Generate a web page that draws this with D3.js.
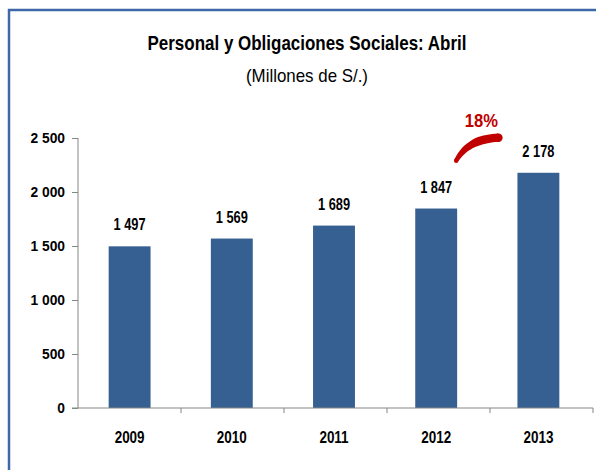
<!DOCTYPE html>
<html>
<head>
<meta charset="utf-8">
<script src="https://cdn.jsdelivr.net/npm/d3@7"></script>
<style>
  body { margin: 0; background: #fff; }
  text { font-family: "Liberation Sans", Arial, sans-serif; }
</style>
</head>
<body>
<div id="chart"></div>
<script>
const years = ['2009', '2010', '2011', '2012', '2013'];
const values = [1497, 1569, 1689, 1847, 2178];
const yTicks = [0, 500, 1000, 1500, 2000, 2500];

const width = 596, height = 470;
const margin = {top: 138, right: 6, bottom: 62, left: 78};

const svg = d3.select('#chart').append('svg')
  .attr('width', width)
  .attr('height', height);

// squeeze text horizontally to imitate the narrow original font
const condense = (sel, k) => sel.each(function () {
  const t = d3.select(this);
  t.attr('textLength', this.getComputedTextLength() * k).attr('lengthAdjust', 'spacingAndGlyphs');
});

// frame (top + left edge visible)
svg.append('path')
  .attr('d', 'M9,' + height + 'V10H' + width)
  .attr('fill', 'none')
  .attr('stroke', '#3d67a6')
  .attr('stroke-width', 2.5);

const x = d3.scaleBand()
  .domain(years)
  .range([margin.left, width - margin.right])
  .paddingInner(0.59)
  .paddingOuter(0.3);

const y = d3.scaleLinear()
  .domain([0, 2500])
  .range([height - margin.bottom, margin.top]);

const fmt = d3.formatLocale({decimal: ',', thousands: ' ', grouping: [3], currency: ['', '']}).format(',d');

// title
svg.append('text')
  .attr('x', 307).attr('y', 50)
  .attr('text-anchor', 'middle')
  .attr('font-size', 21).attr('font-weight', 'bold')
  .attr('textLength', 319).attr('lengthAdjust', 'spacingAndGlyphs')
  .text('Personal y Obligaciones Sociales: Abril');

svg.append('text')
  .attr('x', 307).attr('y', 82)
  .attr('text-anchor', 'middle')
  .attr('font-size', 19)
  .attr('textLength', 122).attr('lengthAdjust', 'spacingAndGlyphs')
  .text('(Millones de S/.)');

// y axis
const yAxis = svg.append('g')
  .attr('transform', 'translate(' + margin.left + ',0)')
  .call(d3.axisLeft(y).tickValues(yTicks).tickSize(6).tickPadding(7).tickFormat(fmt));
yAxis.select('.domain').attr('stroke', '#868686').attr('d', 'M0,' + y(0) + 'V' + y(2500));
yAxis.selectAll('.tick line').attr('stroke', '#868686');
yAxis.selectAll('.tick text')
  .attr('font-size', 15).attr('font-weight', 'bold').attr('fill', '#000')
  .style('font-family', '"Liberation Sans", Arial, sans-serif')
  .call(condense, 0.92);

// bars
svg.selectAll('.bar')
  .data(values)
  .enter()
    .append('rect')
    .attr('class', 'bar')
    .attr('fill', '#376092')
    .attr('x', (d, i) => x(years[i]))
    .attr('y', (d) => y(d))
    .attr('width', x.bandwidth())
    .attr('height', (d) => y(0) - y(d));

// value labels
svg.selectAll('.lbl')
  .data(values)
  .enter()
    .append('text')
    .attr('class', 'lbl')
    .attr('x', (d, i) => x(years[i]) + x.bandwidth() / 2)
    .attr('y', (d) => y(d) - 16)
    .attr('text-anchor', 'middle')
    .attr('font-size', 16).attr('font-weight', 'bold')
    .text((d) => fmt(d))
    .call(condense, 0.8);

// x axis with ticks at category boundaries
const xAxis = svg.append('g')
  .attr('transform', 'translate(0,' + y(0) + ')')
  .call(d3.axisBottom(x).tickSize(0).tickPadding(24));
xAxis.select('.domain').attr('stroke', '#868686').attr('d', 'M' + (margin.left - 6) + ',0H' + (width - margin.right + 3));
xAxis.selectAll('.tick text')
  .attr('font-size', 16).attr('font-weight', 'bold').attr('fill', '#000')
  .style('font-family', '"Liberation Sans", Arial, sans-serif')
  .call(condense, 0.84);

const bounds = d3.range(years.length + 1).map((i) => margin.left + i * ((width - margin.right + 3 - margin.left) / years.length));
xAxis.selectAll('.btick')
  .data(bounds.slice(1))
  .enter()
    .append('line')
    .attr('x1', (d) => d).attr('x2', (d) => d)
    .attr('y1', 0).attr('y2', 5)
    .attr('stroke', '#868686');

// growth annotation between the last two years (tapered brush stroke)
const last = values.length - 1;
const growth = Math.round((values[last] / values[last - 1] - 1) * 100);
const x0 = x(years[last - 1]) + x.bandwidth();
const x1 = x(years[last]);
const p0 = [x0 - 1, y(values[last]) - 12];
const p2 = [x1 - 19, y(values[last]) - 35];
const pc = [p0[0] + 12, p2[1] + 1];

const bez = (t) => [
  (1 - t) * (1 - t) * p0[0] + 2 * (1 - t) * t * pc[0] + t * t * p2[0],
  (1 - t) * (1 - t) * p0[1] + 2 * (1 - t) * t * pc[1] + t * t * p2[1]
];
const tan = (t) => [
  2 * (1 - t) * (pc[0] - p0[0]) + 2 * t * (p2[0] - pc[0]),
  2 * (1 - t) * (pc[1] - p0[1]) + 2 * t * (p2[1] - pc[1])
];
const ts = d3.range(0, 1.0001, 0.05);
const side = (sgn) => ts.map((t) => {
  const p = bez(t), d = tan(t), len = Math.hypot(d[0], d[1]);
  const w = 2.2 + 2.0 * Math.min(1, t * 1.6);
  return [p[0] - sgn * d[1] / len * w, p[1] + sgn * d[0] / len * w];
});
const outline = side(1).concat(side(-1).reverse());

svg.append('path')
  .attr('d', d3.line().curve(d3.curveLinearClosed)(outline))
  .attr('fill', '#c00000');
svg.append('circle').attr('cx', p0[0]).attr('cy', p0[1]).attr('r', 2.2).attr('fill', '#c00000');
svg.append('circle').attr('cx', p2[0]).attr('cy', p2[1]).attr('r', 4.2).attr('fill', '#c00000');

svg.append('text')
  .attr('x', (p0[0] + p2[0]) / 2 + 4)
  .attr('y', p2[1] - 11)
  .attr('text-anchor', 'middle')
  .attr('font-size', 18).attr('font-weight', 'bold')
  .attr('fill', '#c00000')
  .text(growth + '%')
  .call(condense, 0.92);
</script>
</body>
</html>
